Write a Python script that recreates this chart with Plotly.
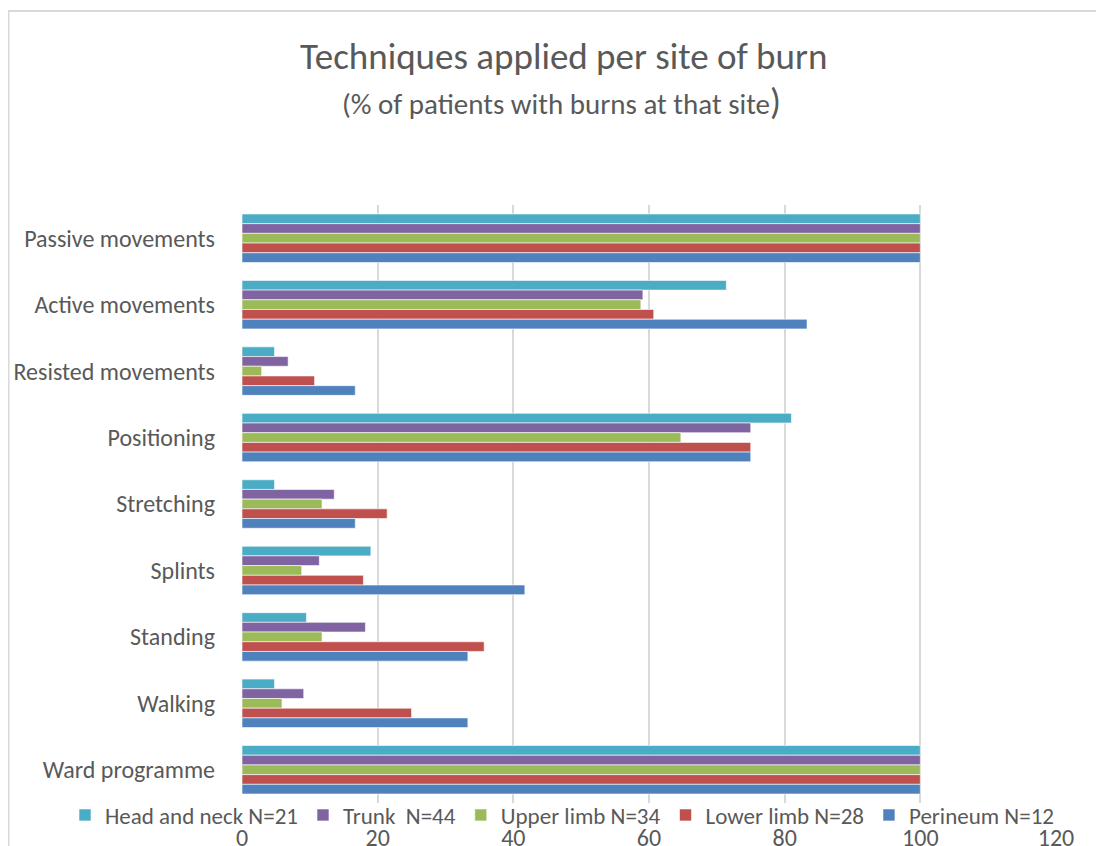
import plotly.graph_objects as go

categories = ["Passive movements", "Active movements", "Resisted movements", "Positioning",
              "Stretching", "Splints", "Standing", "Walking", "Ward programme"]

series_names = ["Head and neck N=21", "Trunk  N=44", "Upper limb N=34", "Lower limb N=28", "Perineum N=12"]

head_neck = [100, 71.4, 4.8, 81.0, 4.8, 19.0, 9.5, 4.8, 100]
trunk = [100, 59.1, 6.8, 75.0, 13.6, 11.4, 18.2, 9.1, 100]
upper_limb = [100, 58.8, 2.9, 64.7, 11.8, 8.8, 11.8, 5.9, 100]
lower_limb = [100, 60.7, 10.7, 75.0, 21.4, 17.9, 35.7, 25.0, 100]
perineum = [100, 83.3, 16.7, 75.0, 16.7, 41.7, 33.3, 33.3, 100]

colors = ["#4BACC6", "#8064A2", "#9BBB59", "#C0504D", "#4F81BD"]
values = [head_neck, trunk, upper_limb, lower_limb, perineum]

FONT = "Carlito, Calibri, Lato, sans-serif"
TXT = "#595959"

# page offset (body margin) compensation
OFF = 8
# plot area geometry in figure pixels
L, R, T, B = 242 - OFF, 1056 - OFF, 205 - OFF, 803 - OFF
PW, PH = R - L, B - T

def px_x(x):
    return (x - OFF - L) / PW

def px_y(y):
    return (B - (y - OFF)) / PH

fig = go.Figure()
for name, vals, col in zip(series_names, values, colors):
    fig.add_trace(go.Bar(
        y=categories, x=vals, name=name, orientation="h",
        marker=dict(color=col, line=dict(color="rgba(255,255,255,0.6)", width=1)),
    ))

fig.update_layout(
    width=1104, height=846,
    barmode="group", bargap=0.27, bargroupgap=0,
    plot_bgcolor="white", paper_bgcolor="white",
    margin=dict(l=L, r=1104 - R, t=T, b=846 - B, autoexpand=False),
    font=dict(family=FONT, color=TXT, size=24),
    showlegend=True,
    legend=dict(orientation="h", x=px_x(65), xanchor="left", y=px_y(815), yanchor="middle",
                font=dict(size=23, color=TXT, family=FONT), itemwidth=30,
                bgcolor="rgba(0,0,0,0)", traceorder="normal"),
    xaxis=dict(range=[0, 120], dtick=20, showgrid=True, gridcolor="#D9D9D9", gridwidth=2,
               zeroline=False, showline=False, ticks="", ticklabelstandoff=18, automargin=False,
               tickfont=dict(size=24, color=TXT, family=FONT)),
    yaxis=dict(categoryorder="array", categoryarray=categories, autorange="reversed",
               showgrid=False, zeroline=False, showline=False, ticks="", ticklabelstandoff=26,
               automargin=False, tickfont=dict(size=24, color=TXT, family=FONT)),
    annotations=[
        dict(text="Techniques applied per site of burn", x=px_x(563), y=px_y(57),
             xref="paper", yref="paper", xanchor="center", yanchor="middle",
             showarrow=False, font=dict(size=37, color=TXT, family=FONT)),
        dict(text="(% of patients with burns at that site<span style='font-size:36px'>)</span>",
             x=px_x(561), y=px_y(102),
             xref="paper", yref="paper", xanchor="center", yanchor="middle",
             showarrow=False, font=dict(size=29, color=TXT, family=FONT)),
    ],
    shapes=[
        dict(type="rect", xref="paper", yref="paper",
             x0=px_x(8.5), x1=px_x(1130), y0=px_y(880), y1=px_y(11),
             line=dict(color="#D9D9D9", width=2), fillcolor="rgba(0,0,0,0)", layer="below"),
    ],
)

fig.write_html("out.html")
